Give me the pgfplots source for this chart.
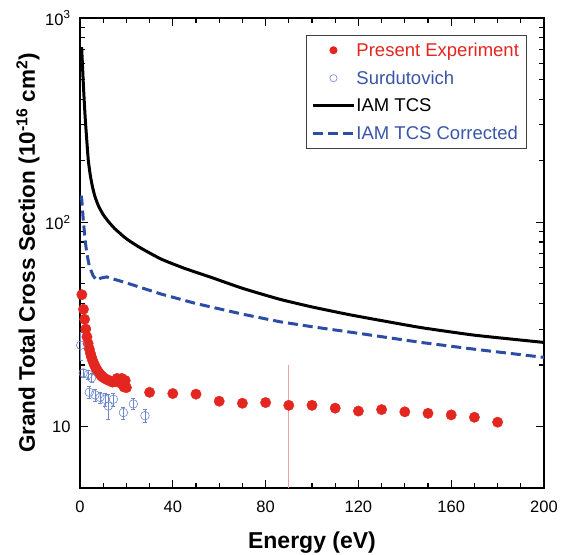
\documentclass[border=0pt]{standalone}
\usepackage{pgfplots}
\pgfplotsset{compat=1.18}
\usepackage{fontspec}
\setmainfont{Liberation Sans}

\definecolor{expred}{HTML}{E3261F}
\definecolor{errred}{HTML}{F0A0A0}
\definecolor{tcsblue}{HTML}{2C4DA6}
\definecolor{surdblue}{HTML}{6E88CC}
\definecolor{legblue}{HTML}{3A55A8}

\begin{document}
\begin{tikzpicture}
\begin{axis}[
    width=464pt, height=470pt, scale only axis,
    xmin=0, xmax=200, ymin=5, ymax=1000, ymode=log,
    xtick={0,40,...,200}, minor x tick num=3,
    ytick={10,100,1000},
    yticklabels={10,10\textsuperscript{2},10\textsuperscript{3}},
    /pgf/number format/assume math mode=true,
    tick label style={font=\fontsize{16.5}{18}\selectfont},
    xticklabel style={yshift=-9pt},
    yticklabel style={xshift=-6pt},
    tick align=inside, tick pos=both,
    xticklabel pos=lower, yticklabel pos=left,
    major tick length=8pt, minor tick length=5pt,
    every tick/.style={black, line width=1.1pt},
    axis line style={line width=1.6pt},
    xlabel={Energy (eV)},
    ylabel={Grand Total Cross Section (10\textsuperscript{-16} cm\textsuperscript{2})},
    xlabel style={at={(axis description cs:0.5,-0.117)}, anchor=center,
                  font=\bfseries\fontsize{23}{26}\selectfont},
    ylabel style={at={(axis description cs:-0.112,0.5)}, anchor=center, rotate=0,
                  font=\bfseries\fontsize{22.5}{25}\selectfont},
    legend image code/.code={\draw[mark repeat=2,mark phase=2,#1]
        plot coordinates {(0pt,0pt) (20pt,0pt) (40pt,0pt)};},
    legend image post style={mark size=3.6pt},
    legend cell align=left,
    legend style={at={(axis description cs:0.963,0.964)}, anchor=north east,
        draw=black!75, line width=0.8pt, inner sep=6pt,
        font=\fontsize{18.5}{21}\selectfont, row sep=10pt,
        nodes={inner sep=1.5pt}},
]
  % error bar of one experimental point
  \addplot[errred, line width=0.7pt, forget plot] coordinates {(90,5) (90,20.1)};

  % present experiment
  \addplot[only marks, mark=*, mark size=5.2pt, color=expred,
           mark options={fill=expred, draw=expred}]
    coordinates {
      (0.8,44.2) (1.5,37.5) (2.0,33.5) (2.5,30.0) (3.0,27.5) (3.5,25.5)
      (4.0,24.0) (4.5,22.8) (5.0,21.8) (5.5,21.0) (6.0,20.3) (6.5,19.7)
      (7.0,19.2) (7.5,18.8) (8.0,18.4) (8.5,18.1) (9.0,17.8) (9.5,17.6)
      (10,17.4) (11,17.1) (12,16.9) (13,16.7) (14,16.5) (15,16.6)
      (16,17.2) (17,16.4) (18,17.2) (18.5,16.0) (19,15.6) (19.5,16.8)
      (20,15.5)
      (30,14.7) (40,14.5) (50,14.4) (60,13.3) (70,13.0) (80,13.1)
      (90,12.7) (100,12.7) (110,12.3) (120,11.9) (130,12.1) (140,11.8)
      (150,11.6) (160,11.4) (170,11.1) (180,10.5)
    };
  \addlegendentry{\textcolor{expred}{Present Experiment}}

  % Surdutovich
  \addplot[only marks, mark=o, mark size=4.3pt, color=surdblue, line width=0.6pt,
           error bars/.cd, y dir=both, y explicit,
           error bar style={line width=0.6pt}, error mark options={rotate=90, mark size=2pt}]
    coordinates {
      (0.3,25.0) +- (0,4.0)
      (1.4,18.3) +- (0,0.8)
      (3.6,18.0) +- (0,0.9)
      (5.0,17.3) +- (0,0.9)
      (4.0,14.7) +- (0,1.0)
      (6.5,14.3) +- (0,1.0)
      (8.6,13.9) +- (0,0.9)
      (10.8,13.6) +- (0,1.0)
      (12.2,12.6) +- (0,1.8)
      (14.4,13.6) +- (0,1.0)
      (18.7,11.7) +- (0,0.8)
      (23.0,12.9) +- (0,0.8)
      (28.0,11.3) +- (0,0.8)
    };
  \addlegendentry{\textcolor{legblue}{Surdutovich}}

  % IAM TCS
  \addplot[black, line width=3pt, mark=none, smooth, tension=0.3]
    coordinates {
      (0.7,720) (1.0,610) (1.5,460) (2.2,330) (3.0,245) (3.6,200)
      (4.5,168) (5.5,147) (6.5,133) (8,120) (10,109) (12.5,100)
      (15,93) (20,83) (26,75) (35,66) (45,59.5) (56,54) (70,47.5)
      (86,42) (100,38.5) (116,35.3) (130,33) (147,30.5) (170,28) (200,25.8)
    };
  \addlegendentry{IAM TCS}

  % IAM TCS corrected
  \addplot[tcsblue, line width=3pt, mark=none, dash pattern=on 10pt off 5pt]
    coordinates {
      (0.5,135) (0.8,128) (1.4,103) (2.2,82) (2.9,71) (4,61) (5.7,54.6)
      (7.2,52.0) (9,53.3) (11.5,54) (15,52.5) (20,50.5) (26,48)
      (35,44.5) (50,40) (70,35.5) (86,32.6) (100,30.8) (120,28.6)
      (147,25.8) (170,23.9) (200,21.8)
    };
  \addlegendentry{\textcolor{legblue}{IAM TCS Corrected}}
\end{axis}
\pgfresetboundingbox
\path[use as bounding box] ([xshift=-80pt,yshift=-66pt]current axis.south west)
    rectangle ([xshift=18pt,yshift=18pt]current axis.north east);
\end{tikzpicture}
\end{document}
